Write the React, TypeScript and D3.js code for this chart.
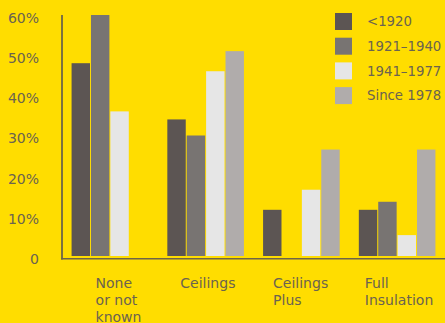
import React, { useEffect, useRef } from "react";
import * as d3 from "d3";

const categories = ["None or not known", "Ceilings", "Ceilings Plus", "Full Insulation"];
const categoryLines = [["None", "or not", "known"], ["Ceilings"], ["Ceilings", "Plus"], ["Full", "Insulation"]];
const seriesNames = ["<1920", "1921\u20131940", "1941\u20131977", "Since 1978"];
const pre1920 = [48, 34, 11.5, 11.5];
const s1921_1940 = [60, 30, 0, 13.5];
const s1941_1977 = [36, 46, 16.5, 5.2];
const since1978 = [0, 51, 26.5, 26.5];
const seriesValues = [pre1920, s1921_1940, s1941_1977, since1978];
const yTicks = [0, 10, 20, 30, 40, 50, 60];

const W = 445;
const H = 323;
const BG = "#ffdd00";
const TEXT = "#6b6350";
const AXIS = "#6e6548";
const COLORS = ["#5c5553", "#787472", "#e6e6e6", "#b0acab"];
const LABEL_DX = [24, 13, 10, 6];
const FONT = "'DejaVu Sans', sans-serif";

export default function App() {
  const ref = useRef<SVGSVGElement>(null);
  useEffect(() => {
    const svg = d3.select(ref.current);
    svg.selectAll("*").remove();
    svg.append("rect").attr("width", W).attr("height", H).attr("fill", BG);

    const x0 = d3.scaleBand<string>().domain(categories).range([62, 445]).paddingInner(0.2).paddingOuter(0.1);
    const x1 = d3.scaleBand<string>().domain(seriesNames).range([0, x0.bandwidth()]).paddingInner(0.05).paddingOuter(0);
    const y = d3.scaleLinear().domain([0, 60]).range([256, 15]);

    // bars
    const g = svg.append("g");
    categories.forEach((c, ci) => {
      seriesNames.forEach((s, si) => {
        const v = seriesValues[si][ci];
        if (!v) return;
        g.append("rect")
          .attr("x", (x0(c) as number) + (x1(s) as number))
          .attr("y", y(v))
          .attr("width", x1.bandwidth())
          .attr("height", y(0) - y(v))
          .attr("fill", COLORS[si]);
      });
    });

    // axes lines
    svg.append("line").attr("x1", 62).attr("x2", 62).attr("y1", y(60)).attr("y2", 259.5)
      .attr("stroke", AXIS).attr("stroke-width", 1.8);
    svg.append("line").attr("x1", 61).attr("x2", 445).attr("y1", 258.8).attr("y2", 258.8)
      .attr("stroke", AXIS).attr("stroke-width", 1.6);

    // y tick labels
    svg.append("g").selectAll("text").data(yTicks).join("text")
      .attr("x", 39)
      .attr("y", (d) => y(d) + 3)
      .attr("dy", "0.35em")
      .attr("text-anchor", "end")
      .attr("font-family", FONT)
      .attr("font-size", 14)
      .attr("fill", TEXT)
      .text((d) => (d === 0 ? "0" : d + "%"));

    // category labels
    categories.forEach((c, ci) => {
      const t = svg.append("text")
        .attr("font-family", FONT)
        .attr("font-size", 14)
        .attr("fill", TEXT);
      categoryLines[ci].forEach((line, li) => {
        t.append("tspan")
          .attr("x", (x0(c) as number) + LABEL_DX[ci])
          .attr("y", 288 + li * 17)
          .text(line);
      });
    });

    // legend
    const lg = svg.append("g").attr("transform", "translate(335,13)");
    seriesNames.forEach((s, i) => {
      lg.append("rect").attr("x", 0).attr("y", i * 24.7).attr("width", 17).attr("height", 17).attr("fill", COLORS[i]);
      lg.append("text").attr("x", 32).attr("y", i * 24.7 + 8.5).attr("dy", "0.35em")
        .attr("font-family", FONT).attr("font-size", 13.3).attr("fill", TEXT).text(s);
    });
  }, []);
  return (
    <svg ref={ref} width={W} height={H} style={{ position: "absolute", left: 0, top: 0, display: "block" }} />
  );
}
